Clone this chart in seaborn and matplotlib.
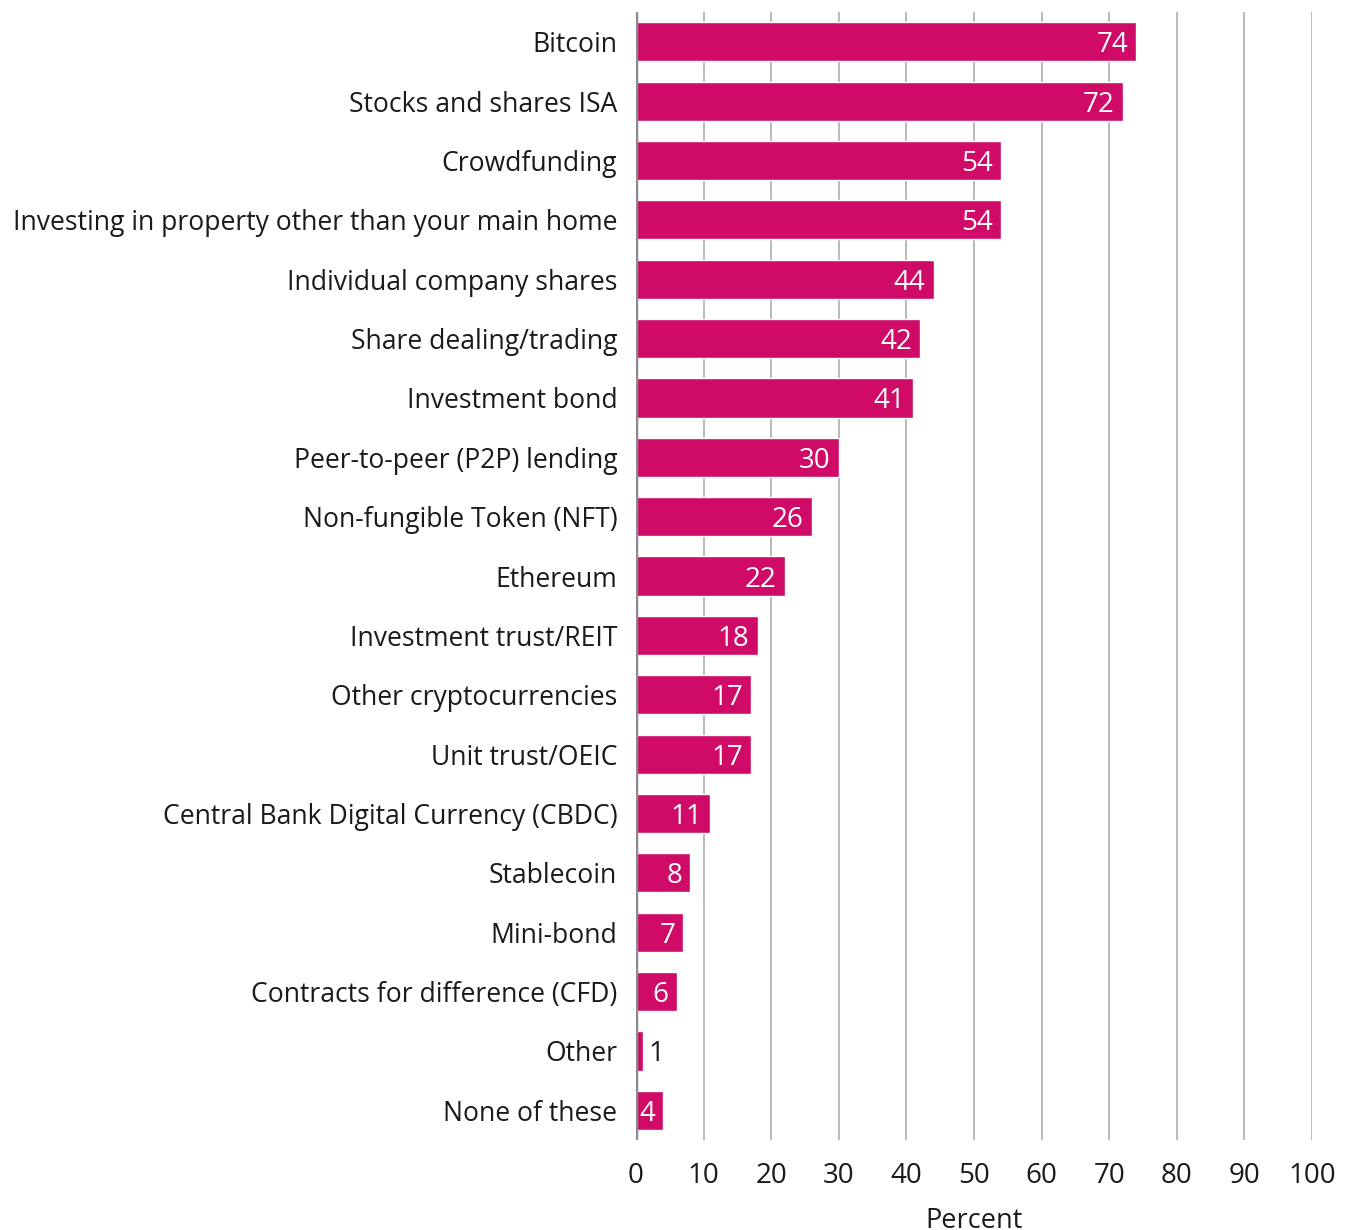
import matplotlib
matplotlib.use("Agg")
import matplotlib.pyplot as plt
import seaborn as sns
import pandas as pd

categories = [
    "Bitcoin",
    "Stocks and shares ISA",
    "Crowdfunding",
    "Investing in property other than your main home",
    "Individual company shares",
    "Share dealing/trading",
    "Investment bond",
    "Peer-to-peer (P2P) lending",
    "Non-fungible Token (NFT)",
    "Ethereum",
    "Investment trust/REIT",
    "Other cryptocurrencies",
    "Unit trust/OEIC",
    "Central Bank Digital Currency (CBDC)",
    "Stablecoin",
    "Mini-bond",
    "Contracts for difference (CFD)",
    "Other",
    "None of these",
]
values = [74, 72, 54, 54, 44, 42, 41, 30, 26, 22, 18, 17, 17, 11, 8, 7, 6, 1, 4]
x_ticks = [0, 10, 20, 30, 40, 50, 60, 70, 80, 90, 100]

df = pd.DataFrame({"category": categories, "value": values})

sns.set_theme(style="white")
plt.rcParams["font.family"] = ["Open Sans", "DejaVu Sans"]

bar_color = "#CF0A67"
text_color = "#1a1a1a"

fig = plt.figure(figsize=(13.51, 12.30), dpi=100)
ax = fig.add_axes([0.4708, 0.0732, 0.5004, 0.9170])

sns.barplot(data=df, x="value", y="category", color=bar_color, saturation=1,
            width=0.66, ax=ax, zorder=3)

ax.set_xlim(0, 100)
ax.set_ylim(len(categories) - 0.5, -0.5)
ax.set_xticks(x_ticks)
ax.set_xticklabels([str(t) for t in x_ticks], fontsize=20, color=text_color)
ax.tick_params(axis="x", length=0, pad=16)
ax.tick_params(axis="y", length=0, pad=13.5, labelsize=19.1, labelcolor=text_color)
ax.set_ylabel("")
ax.set_xlabel("Percent", fontsize=19.5, color=text_color, labelpad=12)

for t in x_ticks[1:]:
    ax.axvline(t, color="#b3b3b3", lw=1.3, zorder=1)
ax.axvline(0, color="#8c8c8c", lw=2.5, zorder=4)

for s in ax.spines.values():
    s.set_visible(False)

for i, v in enumerate(values):
    if v >= 3:
        ax.text(v - 1.2, i, str(v), ha="right", va="center_baseline", color="white",
                fontsize=20, zorder=5)
    else:
        ax.text(v + 0.9, i, str(v), ha="left", va="center_baseline", color=text_color,
                fontsize=20, zorder=5)

fig.savefig("out.png", dpi=100)
